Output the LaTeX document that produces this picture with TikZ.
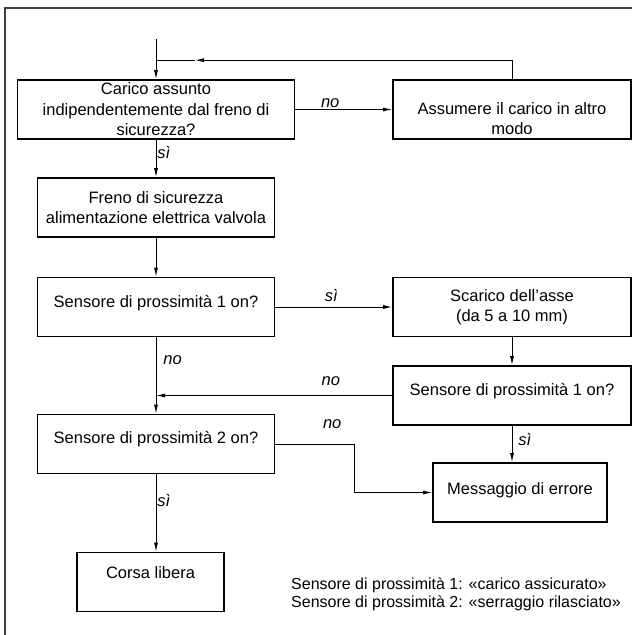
\documentclass[tikz,border=0pt]{standalone}
\usepackage{fontspec}
\setmainfont{Liberation Sans}
\usetikzlibrary{arrows.meta}
\tikzstyle{block} = [rectangle, draw, line width=1.6pt, align=center, minimum height=59pt, inner xsep=2pt, inner ysep=0pt, font=\fontsize{16.5pt}{20.5pt}\selectfont]
\tikzstyle{arrow} = [line width=0.9pt, -{Latex[length=9pt,width=4pt]}]
\tikzstyle{connector} = [line width=0.9pt]
\tikzstyle{answer} = [font=\fontsize{16.5pt}{18pt}\selectfont\itshape, inner sep=1pt]
\tikzstyle{pageframe} = [line width=1.7pt, draw=black!75]

\begin{document}
\begin{tikzpicture}[x=1pt, y=-1pt, node distance=98pt]
    \useasboundingbox (0,0) rectangle (632,635);
    \draw[pageframe] (5,635) -- (5,8) -- (632,8);
    \node(carico)[block, minimum width=277pt] at (156,109.5) {Carico assunto\\indipendentemente dal freno di\\sicurezza?};
    \node(assumere)[block, minimum width=238pt, right of=carico, xshift=258pt] {\rule{0pt}{30pt}Assumere il carico in altro\\modo};
    \node(freno)[block, minimum width=237pt, below of=carico] {Freno di sicurezza\\alimentazione elettrica valvola};
    \node(sensUno)[block, minimum width=237pt, below of=freno, yshift=-1.5pt, text height=12pt, text depth=12pt] {Sensore di prossimità 1 on?};
    \node(scarico)[block, minimum width=238pt, right of=sensUno, xshift=258pt] {Scarico dell’asse\\(da 5 a 10 mm)};
    \node(sensUnoBis)[block, minimum width=238pt, below of=scarico, yshift=9.5pt, text height=12pt, text depth=12pt] {Sensore di prossimità 1 on?};
    \node(sensDue)[block, minimum width=237pt, below of=sensUno, yshift=-39pt, text height=12pt, text depth=14pt] {Sensore di prossimità 2 on?};
    \node(errore)[block, minimum width=174pt, below of=sensUnoBis, xshift=8pt, yshift=1pt, text height=12pt, text depth=9pt] {Messaggio di errore};
    \node(corsa)[block, minimum width=147pt, below of=sensDue, xshift=-5.5pt, yshift=-40pt, text height=12pt, text depth=20pt] {Corsa libera};
    \node(legenda)[anchor=west, align=left, inner sep=0pt, font=\fontsize{16pt}{18.6pt}\selectfont] at (291,594.4) {Sensore di prossimità 1: «carico assicurato»\\Sensore di prossimità 2: «serraggio rilasciato»};
    \coordinate (start) at ([yshift=40pt]carico.north);
    \coordinate (fb) at ([yshift=19pt]carico.north);
    \coordinate (fbtip) at ([xshift=39pt]fb);
    \draw [arrow] (start) -- (carico);
    \draw [arrow] (assumere) |- (fbtip);
    \draw [connector] (fbtip) -- (fb);
    \draw [arrow] (carico) -- node[answer, above, pos=0.36]{no} (assumere);
    \draw [arrow] (carico) -- node[answer, right, pos=0.33]{sì} (freno);
    \draw [arrow] (freno) -- (sensUno);
    \draw [arrow] (sensUno) -- node[answer, above, pos=0.48, yshift=4pt]{sì} (scarico);
    \draw [arrow] (scarico) -- (sensUnoBis);
    \draw [arrow] (sensUno) -- node[answer, right, pos=0.3, xshift=6pt]{no} (sensDue);
    \draw [arrow] (sensUnoBis) -- node[answer, above, pos=0.26, yshift=8pt]{no} (sensUnoBis -| sensUno);
    \draw [arrow] (sensDue) -- node[answer, right, pos=0.34]{sì} (sensDue.south |- corsa.north);
    \draw [arrow] (sensUnoBis) -- node[answer, right, pos=0.39, xshift=5pt]{sì} (sensUnoBis.south |- errore.north);
    \draw [arrow] (sensDue.east) -- node[answer, above, pos=0.72, yshift=14pt]{no} ++(79,0) |- (errore);
\end{tikzpicture}
\end{document}
